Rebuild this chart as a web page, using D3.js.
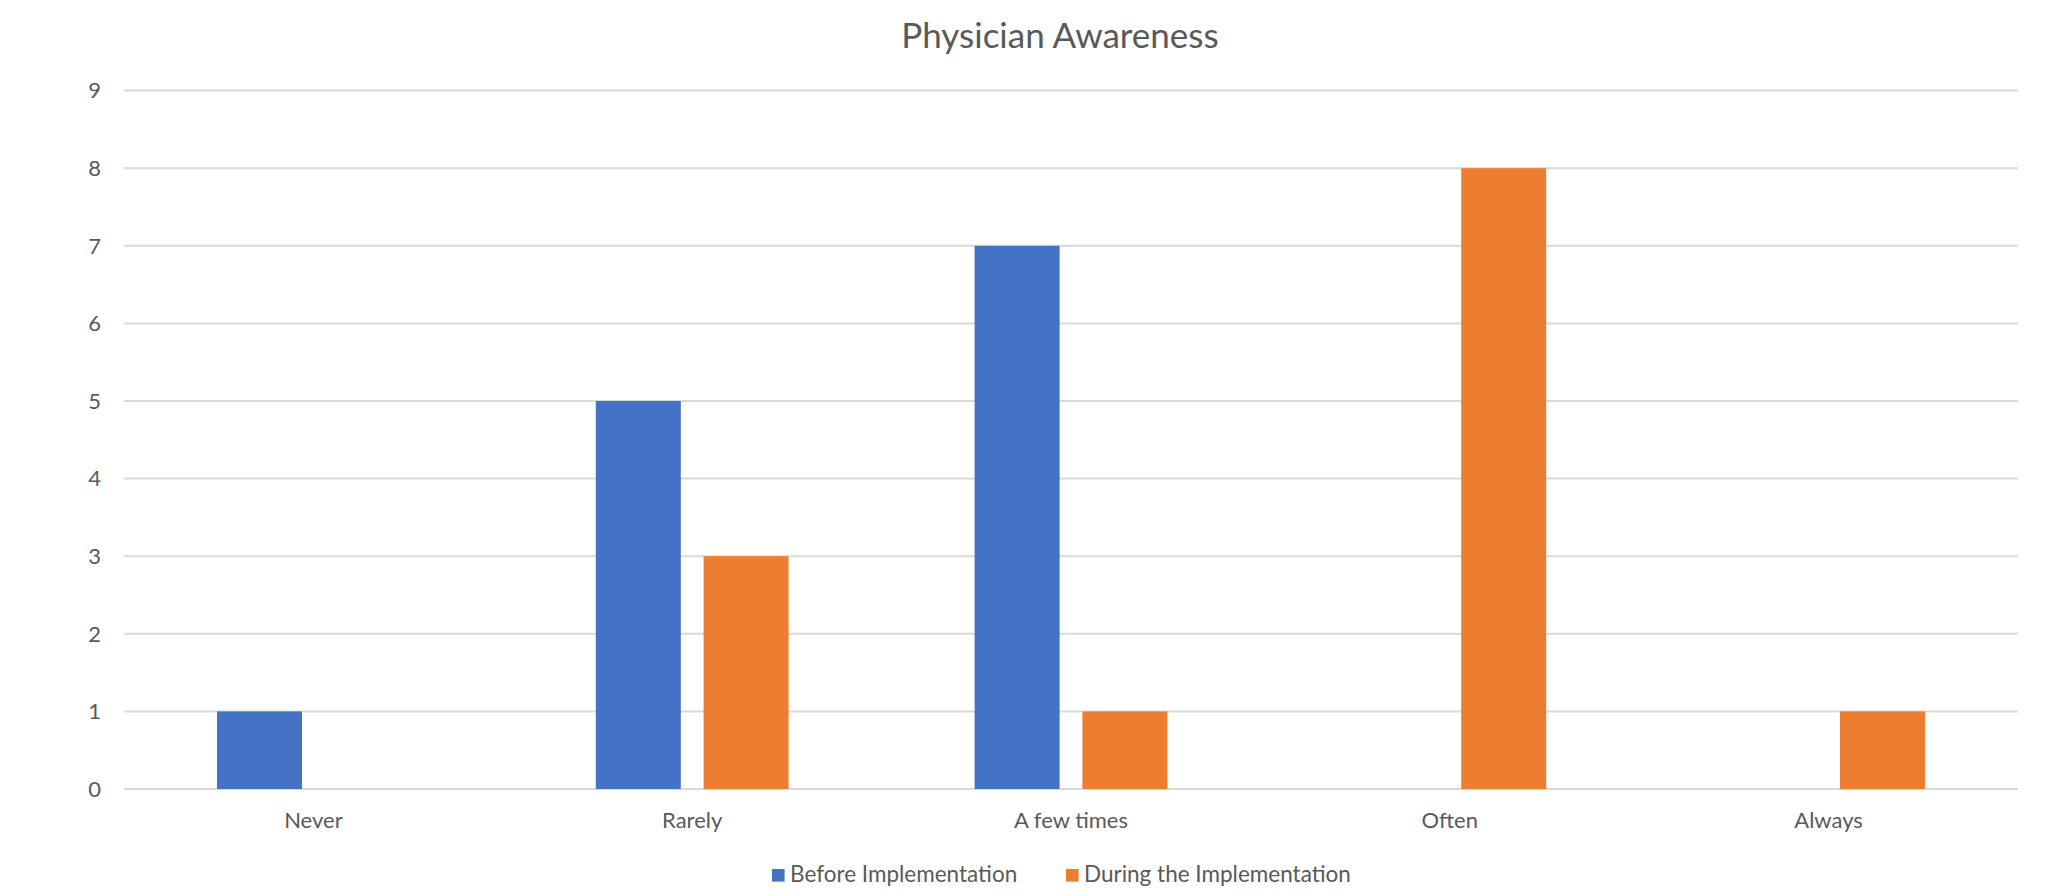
<!DOCTYPE html>
<html>
<head>
<meta charset="utf-8">
<script src="https://cdn.jsdelivr.net/npm/d3@7"></script>
<style>
  body { margin: 0; background: #fff; }
  svg text { font-family: Lato, "Open Sans", sans-serif; fill: #595959; }
</style>
</head>
<body>
<svg id="chart"></svg>
<script>
// chart data
var categories = ["Never", "Rarely", "A few times", "Often", "Always"];
var seriesNames = ["Before Implementation", "During the Implementation"];
var beforeValues = [1, 5, 7, 0, 0];
var duringValues = [0, 3, 1, 8, 1];
var yTicks = [0, 1, 2, 3, 4, 5, 6, 7, 8, 9];
var colors = ["#4472C4", "#ED7D31"];

var width = 2046, height = 896;
var plot = { left: 124, right: 2018, top: 90.6, bottom: 789 };

var svg = d3.select("#chart")
    .attr("width", width)
    .attr("height", height);

var rows = categories.map(function(c, i) {
  return { cat: c, values: [beforeValues[i], duringValues[i]] };
});

var x0 = d3.scaleBand()
    .domain(categories)
    .range([plot.left, plot.right])
    .padding(0);

// two bars per category with a narrow gap between them
var x1 = d3.scaleBand()
    .domain(seriesNames)
    .range([0, x0.bandwidth()])
    .paddingInner(0.2115)
    .paddingOuter(0.8627);

var y = d3.scaleLinear()
    .domain([0, 9])
    .range([plot.bottom, plot.top]);

// title
svg.append("text")
    .attr("x", 1060)
    .attr("y", 48)
    .attr("text-anchor", "middle")
    .attr("font-size", "35px")
    .text("Physician Awareness");

// gridlines
svg.append("g")
    .selectAll("line")
    .data(yTicks)
    .enter()
    .append("line")
    .attr("x1", plot.left)
    .attr("x2", plot.right)
    .attr("y1", d => y(d))
    .attr("y2", d => y(d))
    .style("stroke", "#d9d9d9")
    .style("stroke-width", 2);

// y tick labels
svg.append("g")
    .selectAll("text")
    .data(yTicks)
    .enter()
    .append("text")
    .attr("x", 101)
    .attr("y", d => y(d))
    .attr("dy", "0.35em")
    .attr("text-anchor", "end")
    .attr("font-size", "22px")
    .text(d => d);

// bars
var groups = svg.append("g")
    .selectAll("g")
    .data(rows)
    .enter()
    .append("g")
    .attr("transform", d => "translate(" + x0(d.cat) + ",0)");

groups.selectAll("rect")
    .data(d => d.values.map((v, i) => ({ name: seriesNames[i], value: v, idx: i })))
    .enter()
    .append("rect")
    .attr("x", d => x1(d.name))
    .attr("width", x1.bandwidth())
    .attr("y", d => y(d.value))
    .attr("height", d => y(0) - y(d.value))
    .style("fill", d => colors[d.idx]);

// category labels
svg.append("g")
    .selectAll("text")
    .data(categories)
    .enter()
    .append("text")
    .attr("x", d => x0(d) + x0.bandwidth() / 2)
    .attr("y", 828)
    .attr("text-anchor", "middle")
    .attr("font-size", "22px")
    .text(d => d);

// legend
var legendX = [772, 1066];
var legend = svg.append("g")
    .selectAll("g")
    .data(seriesNames)
    .enter()
    .append("g")
    .attr("transform", (d, i) => "translate(" + legendX[i] + ",0)");

legend.append("rect")
    .attr("x", 0)
    .attr("y", 869)
    .attr("width", 12.6)
    .attr("height", 12.6)
    .style("fill", (d, i) => colors[i]);

legend.append("text")
    .attr("x", 18)
    .attr("y", 882)
    .attr("font-size", "22.5px")
    .text(d => d);
</script>
</body>
</html>
